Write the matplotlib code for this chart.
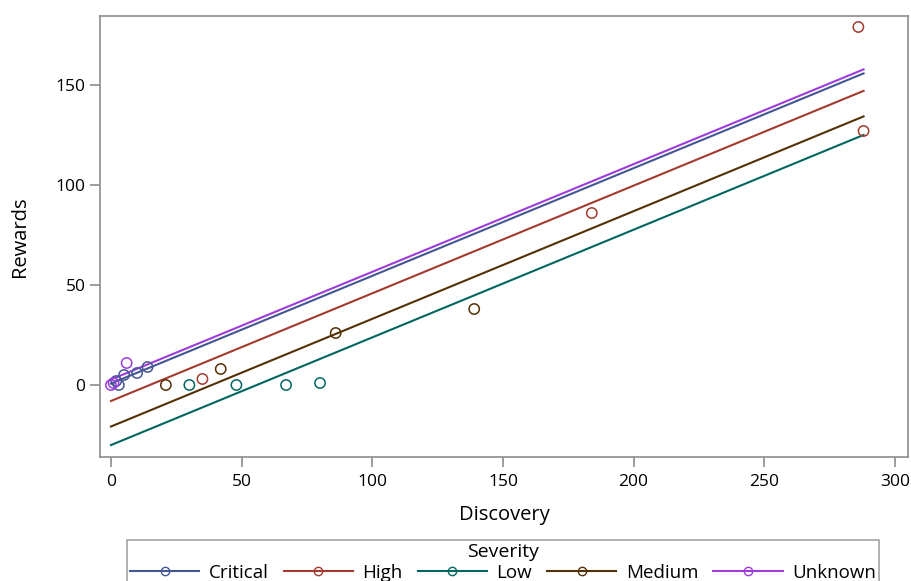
import numpy as np
import matplotlib
matplotlib.use("Agg")
import matplotlib.pyplot as plt
from matplotlib.lines import Line2D

plt.rcParams['font.family'] = ['Open Sans', 'DejaVu Sans']

severities = ["Critical", "High", "Low", "Medium", "Unknown"]
colors = ["#445694", "#A23A2E", "#01665E", "#543005", "#9D3CDB"]

critical_x = [2, 3, 5, 10, 14]
critical_y = [2, 0, 5, 6, 9]
high_x = [35, 184, 286, 288]
high_y = [3, 86, 179, 127]
low_x = [30, 48, 67, 80]
low_y = [0, 0, 0, 1]
medium_x = [21, 42, 86, 139]
medium_y = [0, 8, 26, 38]
unknown_x = [0, 1, 6]
unknown_y = [0, 1, 11]

groups = {
    "Critical": (critical_x, critical_y),
    "High": (high_x, high_y),
    "Low": (low_x, low_y),
    "Medium": (medium_x, medium_y),
    "Unknown": (unknown_x, unknown_y),
}

# ANCOVA-style fit: common slope, separate intercepts
sxx = 0.0
sxy = 0.0
for xs, ys in groups.values():
    xs = np.asarray(xs, float); ys = np.asarray(ys, float)
    sxx += ((xs - xs.mean()) ** 2).sum()
    sxy += ((xs - xs.mean()) * (ys - ys.mean())).sum()
slope = sxy / sxx
all_x = np.concatenate([np.asarray(v[0], float) for v in groups.values()])
xline = np.array([all_x.min(), all_x.max()])

fig = plt.figure(figsize=(9.11, 5.81), dpi=100)
ax = fig.add_axes([100/911, 1-457/581, 808/911, 441/581])

handles = []
for name, c in zip(severities, colors):
    xs, ys = groups[name]
    xs = np.asarray(xs, float); ys = np.asarray(ys, float)
    b = ys.mean() - slope * xs.mean()
    ax.plot(xline, b + slope * xline, color=c, lw=1.5, zorder=2)
    ax.scatter(xs, ys, s=55, facecolors='none', edgecolors=c, linewidths=1.1, zorder=3)
    handles.append(Line2D([0], [0], color=c, lw=1.5, marker='o', markersize=6,
                          markerfacecolor='none', markeredgecolor=c, markeredgewidth=1.0))

ax.set_xlim(-4.2, 305)
ax.set_ylim(-36, 184.5)
ax.set_xticks([0, 50, 100, 150, 200, 250, 300])
ax.set_yticks([0, 50, 100, 150])
for s in ax.spines.values():
    s.set_color("#8c8c8c")
    s.set_linewidth(1.2)
ax.tick_params(colors="#8c8c8c", labelcolor="black", labelsize=12.5, length=7, width=1.2)
ax.tick_params(axis='x', pad=5)
ax.set_xlabel("Discovery", fontsize=14.5, labelpad=11)
ax.set_ylabel("Rewards", fontsize=14.5, labelpad=18)

leg = fig.legend(handles, severities, loc="upper center", bbox_to_anchor=(0.552, 1-540/581),
                 ncol=5, title="Severity", fontsize=13.5, title_fontsize=14,
                 handlelength=3.7, columnspacing=0.8, handletextpad=0.5,
                 frameon=True, fancybox=False, edgecolor="#8c8c8c", borderpad=0.15,
                 borderaxespad=0, labelspacing=0.2)
leg._legend_box.sep = 2
leg.get_frame().set_linewidth(1.2)

fig.savefig("out.png", dpi=100)
